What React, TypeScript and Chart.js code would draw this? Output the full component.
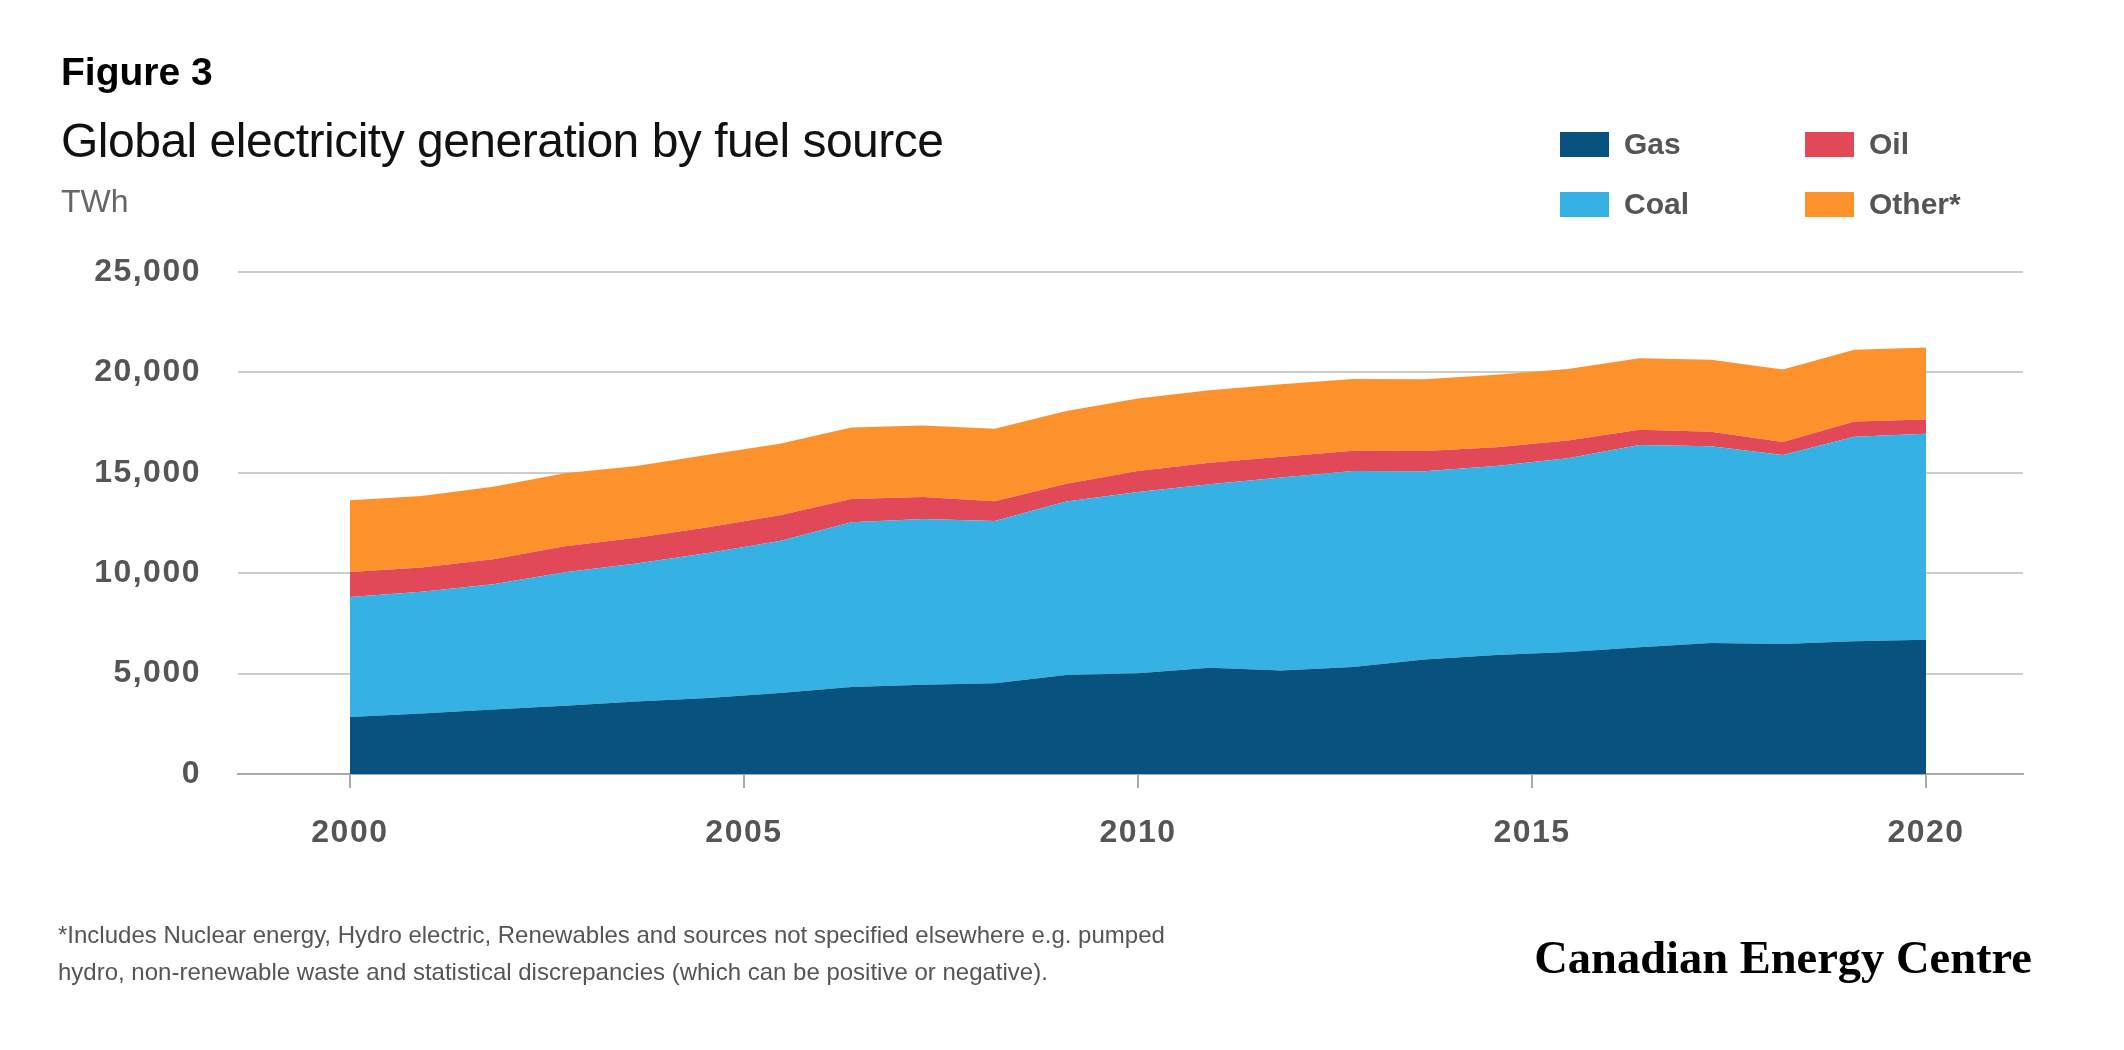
import { useEffect, useRef } from 'react'
import { Chart, registerables } from 'chart.js'

Chart.register(...registerables)

// 23 evenly spaced readings between the 2000 and 2020 ticks, TWh
const gas = [2840, 3010, 3210, 3400, 3610, 3780, 4040, 4330, 4450, 4520, 4930, 5020, 5290, 5150, 5330, 5700, 5930, 6070, 6310, 6530, 6480, 6610, 6680]
const coal = [5980, 6070, 6240, 6650, 6870, 7220, 7560, 8210, 8250, 8080, 8640, 9020, 9140, 9620, 9760, 9380, 9410, 9650, 10070, 9790, 9410, 10190, 10270]
const oil = [1240, 1200, 1240, 1290, 1290, 1290, 1290, 1150, 1090, 980, 890, 1050, 1070, 1030, 1010, 1010, 930, 890, 760, 720, 650, 760, 700]
const other = [3570, 3560, 3610, 3640, 3570, 3610, 3560, 3560, 3570, 3610, 3620, 3610, 3610, 3610, 3570, 3570, 3610, 3560, 3570, 3590, 3610, 3570, 3590]

const seriesNames = ['Gas', 'Coal', 'Oil', 'Other*']
const seriesColors = ['#07527e', '#35b1e3', '#e14959', '#fd912c']
const tickYears = [2000, 2005, 2010, 2015, 2020]
const firstYear = 2000
const lastYear = 2020

const SANS = '"Liberation Sans", Arial, sans-serif'

function toPoints(values: number[]) {
  const step = (lastYear - firstYear) / (values.length - 1)
  return values.map((v, i) => ({ x: firstYear + i * step, y: v }))
}

// the tick labels in the original are set a little looser than Arial
const spacingPlugin = {
  id: 'tickSpacing',
  beforeDraw: (chart: any) => {
    chart.ctx.letterSpacing = '1.5px'
  }
}

export default function App() {
  const canvasRef = useRef<HTMLCanvasElement | null>(null)
  const chartRef = useRef<any>(null)

  useEffect(() => {
    const ctx = canvasRef.current?.getContext('2d')
    if (!ctx) return
    if (chartRef.current) chartRef.current.destroy()

    const series = [gas, coal, oil, other]
    chartRef.current = new Chart(ctx, {
      type: 'line',
      data: {
        datasets: series.map((values, i) => ({
          label: seriesNames[i],
          data: toPoints(values),
          backgroundColor: seriesColors[i],
          borderColor: seriesColors[i],
          borderWidth: 0,
          pointRadius: 0,
          tension: 0,
          fill: i === 0 ? 'origin' : '-1'
        }))
      },
      options: {
        animation: false,
        responsive: false,
        layout: { padding: { left: 0, right: 101, top: 272, bottom: 176 } },
        plugins: { legend: { display: false }, tooltip: { enabled: false } },
        scales: {
          x: {
            type: 'linear',
            min: 1998.58,
            max: 2021.23,
            afterBuildTicks: (axis: any) => {
              axis.ticks = tickYears.map(v => ({ value: v }))
            },
            afterFit: (axis: any) => {
              axis.height = 100
            },
            grid: { drawOnChartArea: false, drawTicks: true, tickLength: 14, color: '#aaaaaa', lineWidth: 2 },
            border: { display: true, color: '#aaaaaa', width: 2 },
            ticks: {
              padding: 26,
              autoSkip: false,
              maxRotation: 0,
              color: '#555555',
              font: { family: SANS, size: 32, weight: 'bold' },
              callback: (v: any) => String(v)
            }
          },
          y: {
            stacked: true,
            min: 0,
            max: 25000,
            afterFit: (axis: any) => {
              axis.width = 238
            },
            grid: {
              drawTicks: false,
              lineWidth: 2,
              color: (c: any) => (c.tick && c.tick.value === 0 ? '#aaaaaa' : '#cccccc')
            },
            border: { display: false },
            ticks: {
              stepSize: 5000,
              padding: 37,
              color: '#555555',
              font: { family: SANS, size: 32, weight: 'bold' },
              callback: (v: any) => Number(v).toLocaleString('en-US')
            }
          }
        }
      },
      plugins: [spacingPlugin]
    })

    return () => chartRef.current?.destroy()
  }, [])

  // legend fills column by column: Gas, Coal | Oil, Other*
  const legendCols = [1560, 1805]
  const legendRows = [132, 192]

  return (
    <div style={{ position: 'absolute', left: 0, top: 0, width: 2124, height: 1050, background: '#fff', overflow: 'hidden', fontFamily: SANS }}>
      <canvas ref={canvasRef} width={2124} height={1050} style={{ position: 'absolute', left: 0, top: 0 }} />

      <div style={{ position: 'absolute', left: 61, top: 52, fontSize: 39, lineHeight: 1, fontWeight: 'bold', color: '#000', whiteSpace: 'nowrap' }}>
        Figure 3
      </div>
      <div style={{ position: 'absolute', left: 61, top: 117, fontSize: 48, lineHeight: 1, color: '#111', letterSpacing: '-0.5px', whiteSpace: 'nowrap' }}>
        Global electricity generation by fuel source
      </div>
      <div style={{ position: 'absolute', left: 61, top: 185, fontSize: 32, lineHeight: 1, color: '#666', whiteSpace: 'nowrap' }}>
        TWh
      </div>

      {seriesNames.map((name, i) => {
        const x = legendCols[Math.floor(i / 2)]
        const y = legendRows[i % 2]
        return (
          <div key={name}>
            <div style={{ position: 'absolute', left: x, top: y, width: 49, height: 25, background: seriesColors[i] }} />
            <div style={{ position: 'absolute', left: x + 64, top: y - 3.4, fontSize: 30, lineHeight: 1, fontWeight: 'bold', color: '#555', whiteSpace: 'nowrap' }}>
              {name}
            </div>
          </div>
        )
      })}

      <div style={{ position: 'absolute', left: 58, top: 916, fontSize: 24, lineHeight: '37px', color: '#555', whiteSpace: 'nowrap' }}>
        *Includes Nuclear energy, Hydro electric, Renewables and sources not specified elsewhere e.g. pumped
        <br />
        hydro, non-renewable waste and statistical discrepancies (which can be positive or negative).
      </div>
      <div style={{ position: 'absolute', right: 92, top: 935, fontSize: 46.5, lineHeight: 1, fontWeight: 'bold', color: '#000', fontFamily: '"Liberation Serif", "Times New Roman", serif', whiteSpace: 'nowrap' }}>
        Canadian Energy Centre
      </div>
    </div>
  )
}
